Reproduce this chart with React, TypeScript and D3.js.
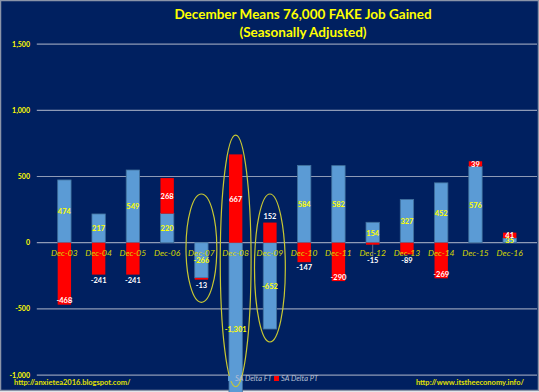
import React from "react";
import * as d3 from "d3";

// Data (thousands of jobs)
const months = ["Dec-03", "Dec-04", "Dec-05", "Dec-06", "Dec-07", "Dec-08", "Dec-09", "Dec-10", "Dec-11", "Dec-12", "Dec-13", "Dec-14", "Dec-15", "Dec-16"];
const deltaFT = [474, 217, 549, 220, -266, -1301, -652, 584, 582, 154, 327, 452, 576, 35];
const deltaPT = [-468, -241, -241, 268, -13, 667, 152, -147, -290, -15, -89, -269, 39, 41];
const yTicks = [-1000, -500, 0, 500, 1000, 1500];
// circled months: [month, top value, bottom value]
const circled: [string, number, number][] = [
  ["Dec-07", 368, -450],
  ["Dec-08", 813, -1088],
  ["Dec-09", 368, -750],
];

const W = 539;
const H = 392;
const BG = "#002060";
const YEL = "#ffff00";
const BLUE = "#5b9bd5";
const RED = "#ff0000";
const FONT = "Lato, 'Open Sans', sans-serif";

const fmt = d3.formatLocale({ decimal: ".", thousands: ",", grouping: [3], currency: ["", ""], minus: "-" }).format(",");

export default function App() {
  const x = d3.scaleBand<string>().domain(months).range([36.8, 537.3]).padding(0.61);
  const y = d3.scaleLinear().domain([-1000, 1500]).range([375.1, 44.1]);

  // stack positives and negatives separately, like Excel
  const rows = months.map((m, i) => {
    const ft = deltaFT[i];
    const pt = deltaPT[i];
    let pt0 = 0;
    if (pt >= 0 && ft >= 0) pt0 = ft;
    if (pt < 0 && ft < 0) pt0 = ft;
    return { m, ft, pt, ft0: 0, ft1: ft, pt0, pt1: pt0 + pt };
  });

  const bw = x.bandwidth();

  return (
    <svg width={W} height={H} style={{ position: "absolute", left: 0, top: 0 }} fontFamily={FONT}>
      <rect x={0.5} y={0.5} width={W - 1} height={H - 2} fill={BG} stroke="#8a94a8" strokeWidth={1.5} />

      <text x={303} y={19} textAnchor="middle" fill={YEL} fontSize={13.5} fontWeight="bold">
        December Means 76,000 FAKE Job Gained
      </text>
      <text x={303} y={37} textAnchor="middle" fill={YEL} fontSize={13.5} fontWeight="bold">
        (Seasonally Adjusted)
      </text>

      {yTicks.map((t) => (
        <g key={t}>
          <line x1={36.8} x2={537} y1={y(t)} y2={y(t)} stroke="#8e9ab6" strokeWidth={1.2} />
          <text x={30} y={y(t) + 2.5} textAnchor="end" fill={YEL} fontSize={7} fontWeight="bold">
            {fmt(t)}
          </text>
        </g>
      ))}

      {rows.map((r) => (
        <g key={r.m}>
          <rect
            x={x(r.m)}
            width={bw}
            y={y(Math.max(r.ft0, r.ft1))}
            height={Math.abs(y(r.ft0) - y(r.ft1))}
            fill={BLUE}
            stroke="#41719c"
            strokeWidth={0.8}
          />
          <rect
            x={x(r.m)}
            width={bw}
            y={y(Math.max(r.pt0, r.pt1))}
            height={Math.abs(y(r.pt0) - y(r.pt1))}
            fill={RED}
          />
        </g>
      ))}

      {rows.map((r) => {
        const cx = (x(r.m) as number) + bw / 2;
        return (
          <text key={r.m} x={cx} y={y(0) + 13} textAnchor="middle" fill="#d8d800" fontSize={8.5} fontStyle="italic">
            {r.m}
          </text>
        );
      })}

      {rows.map((r) => {
        const cx = (x(r.m) as number) + bw / 2;
        const ftY = y((r.ft0 + r.ft1) / 2) + 3;
        const ptH = Math.abs(y(r.pt0) - y(r.pt1));
        let ptY;
        let leader = false;
        if (r.pt >= 0) {
          // small bar sitting on the axis gets its label above
          ptY = r.pt0 === 0 && ptH < 30 ? y(r.pt1) - 4 : y((r.pt0 + r.pt1) / 2) + 3;
        } else if (Math.abs(r.pt) >= 260) {
          ptY = y(r.pt1) - 1.5;
        } else {
          // outside end, pushed below the month labels
          const c = Math.max(y(r.pt1) + 5.5, y(0) + 18);
          leader = c - y(r.pt1) > 12;
          ptY = c + 2.7;
        }
        return (
          <g key={r.m} fontSize={7.5} fontWeight="bold" textAnchor="middle">
            <text x={cx} y={ftY} fill={YEL}>{fmt(r.ft)}</text>
            {leader && <line x1={cx} x2={cx} y1={y(r.pt1)} y2={ptY - 7} stroke="#a6a6a6" strokeWidth={0.6} />}
            <text x={cx} y={ptY} fill="#ffffff">{fmt(r.pt)}</text>
          </g>
        );
      })}

      {circled.map(([m, top, bottom]) => {
        const cx = (x(m) as number) + bw / 2;
        return (
          <ellipse
            key={m}
            cx={cx}
            cy={(y(top) + y(bottom)) / 2}
            rx={x.step() * 0.45}
            ry={(y(bottom) - y(top)) / 2}
            fill="none"
            stroke="#c8c832"
            strokeWidth={1.2}
          />
        );
      })}

      <g fontSize={7.5} fontStyle="italic" fill="#b8c0d4">
        <rect x={228} y={376} width={5} height={5} fill={BLUE} />
        <text x={235} y={381}>SA Delta FT</text>
        <rect x={274} y={376} width={5} height={5} fill={RED} />
        <text x={281} y={381}>SA Delta PT</text>
      </g>

      <text x={14} y={385} fill="#e0e000" fontSize={7.5} fontWeight="bold">http://anxietea2016.blogspot.com/</text>
      <text x={524} y={385} textAnchor="end" fill="#e0e000" fontSize={7.5} fontWeight="bold">http://www.itstheeconomy.info/</text>
    </svg>
  );
}
